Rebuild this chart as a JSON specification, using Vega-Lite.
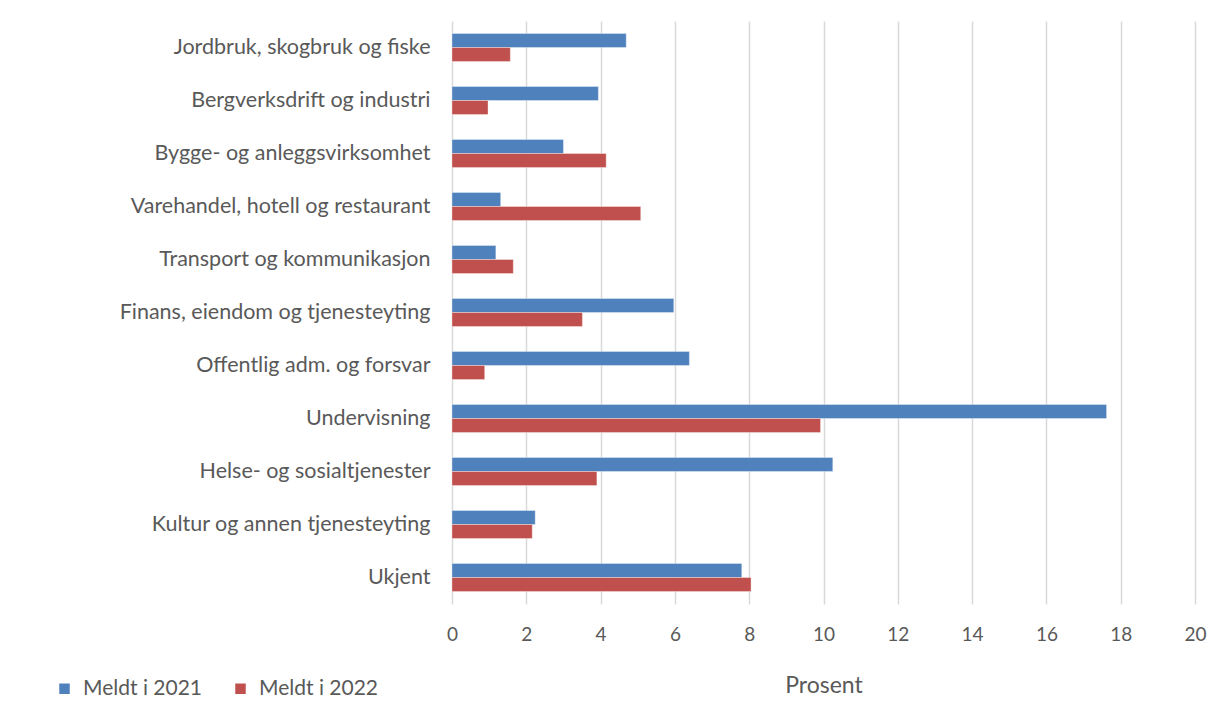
{
  "$schema": "https://vega.github.io/schema/vega-lite/v6.json",
  "width": 743,
  "height": 583,
  "autosize": {"type": "none"},
  "padding": {"left": 452, "top": 21, "right": 25, "bottom": 109},
  "background": "white",
  "config": {
    "view": {"stroke": null},
    "font": "Lato"
  },
  "data": {
    "values": [
      {"kategori": "Jordbruk, skogbruk og fiske", "serie": "Meldt i 2021", "prosent": 4.69},
      {"kategori": "Jordbruk, skogbruk og fiske", "serie": "Meldt i 2022", "prosent": 1.57},
      {"kategori": "Bergverksdrift og industri", "serie": "Meldt i 2021", "prosent": 3.94},
      {"kategori": "Bergverksdrift og industri", "serie": "Meldt i 2022", "prosent": 0.97},
      {"kategori": "Bygge- og anleggsvirksomhet", "serie": "Meldt i 2021", "prosent": 3.0},
      {"kategori": "Bygge- og anleggsvirksomhet", "serie": "Meldt i 2022", "prosent": 4.15},
      {"kategori": "Varehandel, hotell og restaurant", "serie": "Meldt i 2021", "prosent": 1.31},
      {"kategori": "Varehandel, hotell og restaurant", "serie": "Meldt i 2022", "prosent": 5.08},
      {"kategori": "Transport og kommunikasjon", "serie": "Meldt i 2021", "prosent": 1.18},
      {"kategori": "Transport og kommunikasjon", "serie": "Meldt i 2022", "prosent": 1.65},
      {"kategori": "Finans, eiendom og tjenesteyting", "serie": "Meldt i 2021", "prosent": 5.97},
      {"kategori": "Finans, eiendom og tjenesteyting", "serie": "Meldt i 2022", "prosent": 3.51},
      {"kategori": "Offentlig adm. og forsvar", "serie": "Meldt i 2021", "prosent": 6.39},
      {"kategori": "Offentlig adm. og forsvar", "serie": "Meldt i 2022", "prosent": 0.88},
      {"kategori": "Undervisning", "serie": "Meldt i 2021", "prosent": 17.62},
      {"kategori": "Undervisning", "serie": "Meldt i 2022", "prosent": 9.92},
      {"kategori": "Helse- og sosialtjenester", "serie": "Meldt i 2021", "prosent": 10.25},
      {"kategori": "Helse- og sosialtjenester", "serie": "Meldt i 2022", "prosent": 3.9},
      {"kategori": "Kultur og annen tjenesteyting", "serie": "Meldt i 2021", "prosent": 2.24},
      {"kategori": "Kultur og annen tjenesteyting", "serie": "Meldt i 2022", "prosent": 2.16},
      {"kategori": "Ukjent", "serie": "Meldt i 2021", "prosent": 7.8},
      {"kategori": "Ukjent", "serie": "Meldt i 2022", "prosent": 8.05}
    ]
  },
  "mark": {"type": "bar", "stroke": "#ffffff", "strokeOpacity": 0.35, "strokeWidth": 1},
  "encoding": {
    "y": {
      "field": "kategori",
      "type": "nominal",
      "sort": null,
      "scale": {"paddingInner": 0.47, "paddingOuter": 0.235},
      "axis": {
        "title": null,
        "ticks": false,
        "domain": false,
        "labelFontSize": 21.5,
        "labelColor": "#595959",
        "labelPadding": 22,
        "labelLimit": 440
      }
    },
    "yOffset": {
      "field": "serie",
      "type": "nominal",
      "sort": ["Meldt i 2021", "Meldt i 2022"],
      "scale": {"paddingInner": 0, "paddingOuter": 0}
    },
    "x": {
      "field": "prosent",
      "type": "quantitative",
      "scale": {"domain": [0, 20], "nice": false},
      "axis": {
        "values": [0, 2, 4, 6, 8, 10, 12, 14, 16, 18, 20],
        "title": "Prosent",
        "titleFontSize": 23,
        "titleFontWeight": "normal",
        "titleColor": "#595959",
        "titlePadding": 30,
        "labelFontSize": 19,
        "labelColor": "#595959",
        "labelPadding": 21,
        "labelFlush": false,
        "ticks": false,
        "domain": false,
        "grid": true,
        "gridColor": "#d9d9d9",
        "gridWidth": 1.5
      }
    },
    "color": {
      "field": "serie",
      "type": "nominal",
      "scale": {"domain": ["Meldt i 2021", "Meldt i 2022"], "range": ["#4F81BD", "#C0504D"]},
      "legend": {
        "title": null,
        "orient": "none",
        "direction": "horizontal",
        "legendX": -398,
        "legendY": 657,
        "symbolType": "square",
        "symbolSize": 110,
        "symbolStrokeWidth": 0,
        "labelFontSize": 21,
        "labelColor": "#595959",
        "labelOffset": 8,
        "columnPadding": 27
      }
    }
  }
}
